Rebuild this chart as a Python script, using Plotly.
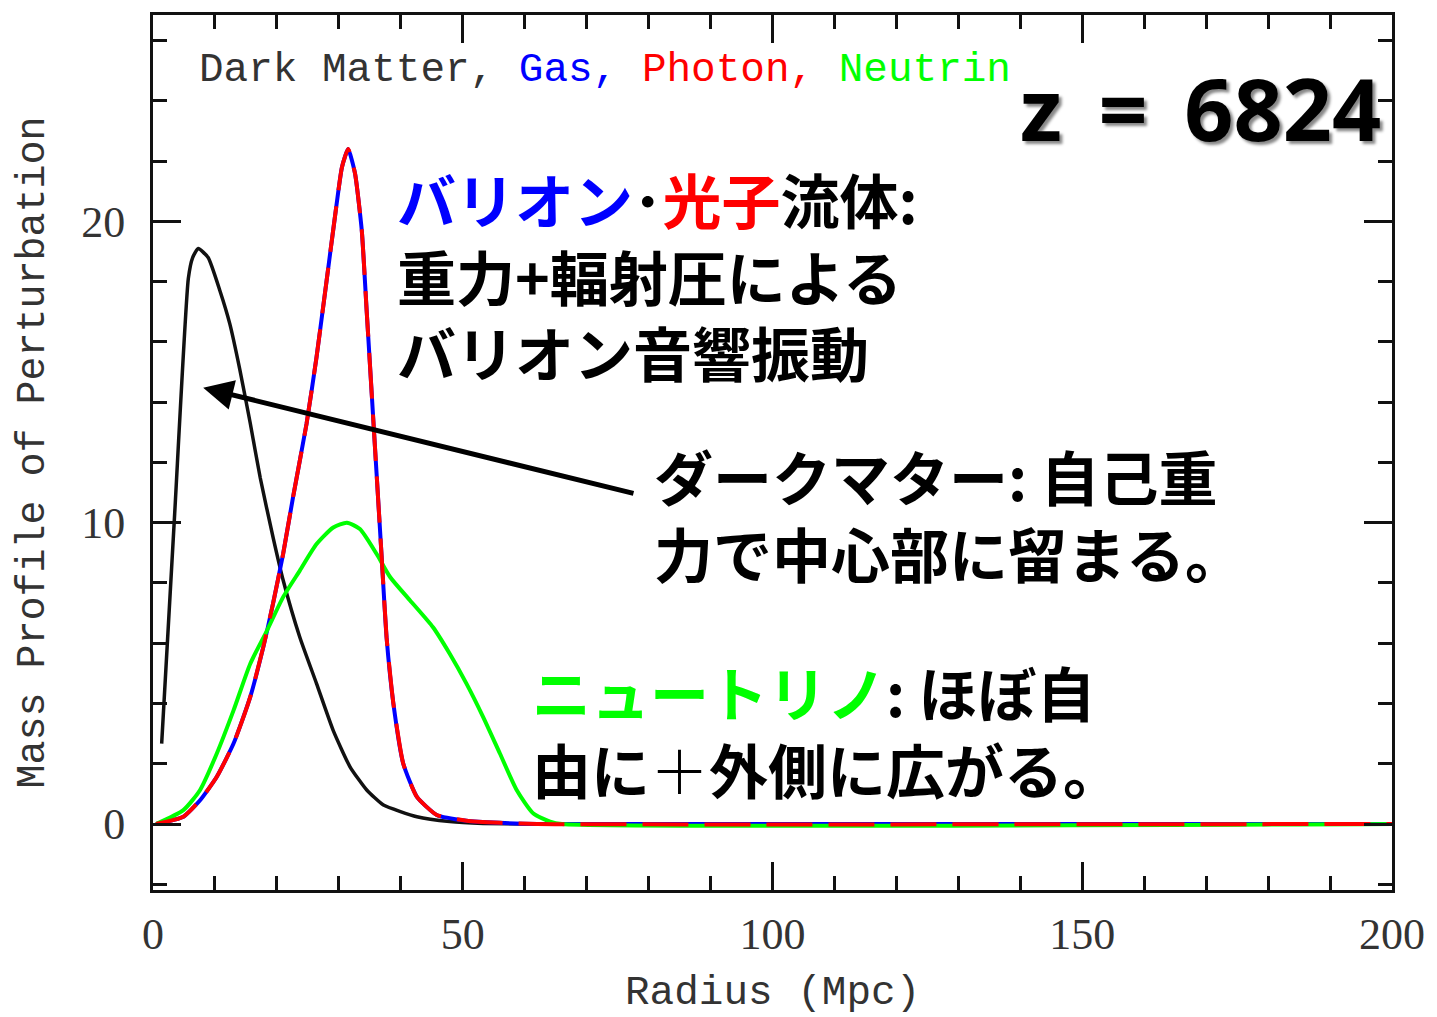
import plotly.graph_objects as go

# ---------------- data ----------------
dm_r = [1.4, 3.5, 5.7, 6.4, 7.3, 8.9, 10.8, 12.4, 14.0, 15.7, 17.3, 19.4, 21.0, 23.7,
        26.4, 29.1, 31.8, 34.5, 37.2, 42.6, 47.9, 53.3, 60.0, 200.0]
dm_m = [2.67, 10.3, 18.1, 18.8, 19.1, 18.8, 17.7, 16.6, 15.1, 13.3, 11.5, 9.5, 8.1, 6.2,
        4.66, 3.1, 1.9, 1.13, 0.63, 0.24, 0.08, 0.02, 0.0, 0.0]

bar_r = [0.5, 4.9, 7.6, 10.3, 13.0, 15.7, 17.8, 19.4, 21.0, 22.6, 24.8, 26.4, 28.0, 29.4,
         30.5, 31.5, 32.6, 33.7, 34.5, 35.3, 36.1, 36.9, 37.7, 38.8, 40.4, 42.6, 45.8,
         50.6, 56.0, 62.0, 200.0]
gas_m = [0.0, 0.24, 0.79, 1.57, 2.67, 4.22, 5.87, 7.34, 8.96, 10.84, 13.3, 15.5, 18.0, 20.2,
         21.8, 22.4, 21.6, 19.7, 17.0, 14.3, 11.6, 8.9, 6.2, 4.0, 2.0, 0.9, 0.3,
         0.11, 0.04, 0.0, 0.0]
photon_m = list(gas_m)

nu_r = [0.5, 4.9, 7.6, 10.3, 13.0, 15.7, 18.4, 21.0, 23.7, 26.4, 29.1, 31.3, 33.4, 36.1,
        38.3, 41.5, 45.2, 47.9, 50.6, 53.3, 56.0, 58.7, 61.4, 64.1, 66.0, 200.0]
nu_m = [0.0, 0.46, 1.13, 2.34, 3.77, 5.32, 6.42, 7.53, 8.41, 9.29, 9.84, 10.0, 9.79, 8.96,
        8.19, 7.42, 6.53, 5.65, 4.66, 3.55, 2.34, 1.13, 0.35, 0.08, 0.0, 0.0]

x_range = [0, 200]
y_range = [-2.19, 26.85]

legend_text = ("<span style='color:#333333'>Dark Matter, </span>"
               "<span style='color:#0000ff'>Gas, </span>"
               "<span style='color:#ff0000'>Photon, </span>"
               "<span style='color:#00ff00'>Neutrin</span>")
z_label = "z\u00a0\u2009=\u00a0\u20096824"
baryon_text = ("<span style='color:#0000ff'>バリオン</span>･"
               "<span style='color:#ff0000'>光子</span>流体:<br>"
               "重力+輻射圧による<br>バリオン音響振動")
dm_text = "ダークマター: 自己重<br>力で中心部に留まる。"
nu_text = ("<span style='color:#00ff00'>ニュートリノ</span>: ほぼ自<br>"
           "由に<span style='font-weight:300'>＋</span>外側に広がる。")
x_title = "Radius (Mpc)"
y_title = "Mass Profile of Perturbation"

# ---------------- figure ----------------
fig = go.Figure()
fig.add_trace(go.Scatter(x=dm_r, y=dm_m, mode="lines", name="Dark Matter",
                         line=dict(color="#111111", width=3.5, shape="spline", smoothing=0.5)))
fig.add_trace(go.Scatter(x=bar_r, y=gas_m, mode="lines", name="Gas",
                         line=dict(color="#0000ff", width=4, shape="spline", smoothing=0.5)))
fig.add_trace(go.Scatter(x=nu_r, y=nu_m, mode="lines", name="Neutrino",
                         line=dict(color="#00ff00", width=4, shape="spline", smoothing=0.6)))
fig.add_trace(go.Scatter(x=bar_r, y=photon_m, mode="lines", name="Photon",
                         line=dict(color="#ff0000", width=4, shape="spline", smoothing=0.5,
                                   dash="46px,16px")))

tickfont = dict(family="Liberation Serif", size=44, color="#333333")
common = dict(showline=True, linecolor="#111111", linewidth=3, mirror="allticks",
              ticks="inside", tickcolor="#111111", tickwidth=2.5, ticklen=28,
              showgrid=False, zeroline=False, tickfont=tickfont)

fig.update_xaxes(range=x_range, tick0=0, dtick=50, ticklabelstandoff=3,
                 minor=dict(dtick=10, ticks="inside", ticklen=14, tickwidth=2.5,
                            tickcolor="#111111", showgrid=False), **common)
fig.update_yaxes(range=y_range, tick0=0, dtick=10, ticklabelstandoff=16,
                 minor=dict(dtick=2, ticks="inside", ticklen=14, tickwidth=2.5,
                            tickcolor="#111111", showgrid=False), **common)

jp = "Noto Sans CJK JP"
jpsize = 59
annotations = [
    dict(xref="paper", yref="paper", x=0.0355, y=0.937, xanchor="left", yanchor="middle",
         text=legend_text, showarrow=False,
         font=dict(family="Liberation Mono", size=41, color="#333333")),
    dict(xref="paper", yref="paper", x=0.993, y=0.894, xanchor="right", yanchor="middle",
         text=z_label, showarrow=False,
         font=dict(family="Open Sans", size=86, color="black", weight="bold",
                   shadow="3px 3px 3px #888888")),
    dict(xref="paper", yref="paper", x=0.195, y=0.7026, xanchor="left", yanchor="middle",
         align="left", text=baryon_text, showarrow=False,
         font=dict(family=jp, size=jpsize, color="black", weight="bold")),
    dict(xref="paper", yref="paper", x=0.403, y=0.4296, xanchor="left", yanchor="middle",
         align="left", text=dm_text, showarrow=False,
         font=dict(family=jp, size=jpsize, color="black", weight="bold")),
    dict(xref="paper", yref="paper", x=0.3045, y=0.1824, xanchor="left", yanchor="middle",
         align="left", text=nu_text, showarrow=False,
         font=dict(family=jp, size=jpsize, color="black", weight="bold")),
    dict(x=8.1, y=14.48, xref="x", yref="y", ax=77.8, ay=10.96, axref="x", ayref="y",
         text="", showarrow=True, arrowhead=2, arrowsize=1.2, arrowwidth=5,
         arrowcolor="black"),
    dict(xref="paper", yref="paper", x=0.5, y=0, xanchor="center", yanchor="middle",
         yshift=-103, text=x_title, showarrow=False,
         font=dict(family="Liberation Mono", size=41, color="#333333")),
    dict(xref="paper", yref="paper", x=0, y=0.5, xanchor="center", yanchor="middle",
         xshift=-120, textangle=-90, text=y_title, showarrow=False,
         font=dict(family="Liberation Mono", size=40, color="#333333")),
]

fig.update_layout(width=1437, height=1017, autosize=False,
                  margin=dict(l=153, r=45, t=13, b=127),
                  paper_bgcolor="white", plot_bgcolor="white",
                  showlegend=False, annotations=annotations)

fig.write_html("out.html", config={"displayModeBar": False})
